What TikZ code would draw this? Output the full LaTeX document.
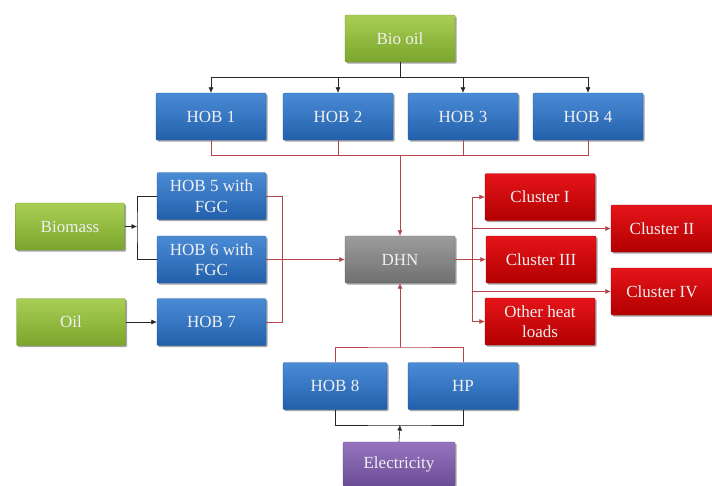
\documentclass[tikz,border=0pt]{standalone}
\usepackage{fontspec}
\setmainfont{Liberation Serif}
\usetikzlibrary{arrows.meta,shadows}
\definecolor{lnred}{HTML}{B5474A}
\tikzset{
  x=1pt, y=-1pt,
  box/.style={rectangle, rounded corners=1pt, minimum width=110pt, minimum height=47pt,
    inner sep=1pt, align=center, text=white!94!black, font=\fontsize{17}{20.5}\selectfont,
    drop shadow={shadow xshift=1.5pt, shadow yshift=-1.5pt, opacity=0.35, fill=black}},
  greenbox/.style={box, top color=green1, bottom color=green2, draw=green2!90!black, line width=0.3pt},
  bluebox/.style={box, top color=blue1, bottom color=blue2, draw=blue2!90!black, line width=0.3pt},
  redbox/.style={box, top color=red1, bottom color=red2, draw=red2!90!black, line width=0.3pt},
  graybox/.style={box, top color=gray1, bottom color=gray2, draw=gray2!90!black, line width=0.3pt},
  purplebox/.style={box, top color=purple1, bottom color=purple2, draw=purple2!90!black, line width=0.3pt},
  blk/.style={draw=black!85, line width=0.6pt},
  rdl/.style={draw=lnred, line width=0.6pt},
  arr/.style={-{Latex[length=5.5pt,width=5pt]}},
}
\definecolor{green1}{HTML}{A9CE55}
\definecolor{green2}{HTML}{7AA52C}
\definecolor{blue1}{HTML}{4A8BD6}
\definecolor{blue2}{HTML}{2360AC}
\definecolor{red1}{HTML}{E5141A}
\definecolor{red2}{HTML}{B20000}
\definecolor{gray1}{HTML}{9C9C9C}
\definecolor{gray2}{HTML}{707070}
\definecolor{purple1}{HTML}{9675BE}
\definecolor{purple2}{HTML}{6B4C96}
\begin{document}
\begin{tikzpicture}
\path[use as bounding box, fill=white] (0,0) rectangle (712,485);
% nodes
\node[greenbox] (bio) at (400,38.5) {Bio oil};
\node[bluebox] (hob1) at (211,116.5) {HOB 1};
\node[bluebox] (hob2) at (338,116.5) {HOB 2};
\node[bluebox] (hob3) at (463,116.5) {HOB 3};
\node[bluebox] (hob4) at (588,116.5) {HOB 4};
\node[greenbox, minimum width=109pt] (biomass) at (70,226.5) {Biomass};
\node[greenbox, minimum width=109pt] (oil) at (71,322) {Oil};
\node[bluebox, minimum width=109pt] (hob5) at (211.5,196) {HOB 5 with\\FGC};
\node[bluebox, minimum width=109pt] (hob6) at (211.5,259.5) {HOB 6 with\\FGC};
\node[bluebox, minimum width=109pt] (hob7) at (211.5,322) {HOB 7};
\node[graybox] (dhn) at (400,259.5) {DHN};
\node[redbox] (cl1) at (540,197) {Cluster I};
\node[redbox, minimum width=102pt] (cl2) at (662,228.5) {Cluster II};
\node[redbox] (cl3) at (541,259.5) {Cluster III};
\node[redbox, minimum width=102pt] (cl4) at (662,291.5) {Cluster IV};
\node[redbox] (other) at (540,321.5) {Other heat\\loads};
\node[bluebox, minimum width=104pt] (hob8) at (335,386) {HOB 8};
\node[bluebox] (hp) at (463,386) {HP};
\node[purplebox, minimum width=112pt, minimum height=44pt] (elec) at (399,464) {Electricity};
% coordinates
\coordinate (bbus) at (400,77);
\coordinate (rbus) at (400,155);
\coordinate (bj) at (137,226.5);
\coordinate (rj) at (282,196);
\coordinate (oj) at (472,259.5);
\coordinate (tb) at (400,347);
\coordinate (eb) at (400,425);
% bio oil distribution
\draw[blk] (bio.south) -- (bbus);
\draw[blk, arr] (bbus) -| (hob1.north);
\draw[blk, arr] (bbus) -| (hob2.north);
\draw[blk, arr] (bbus) -| (hob3.north);
\draw[blk, arr] (bbus) -| (hob4.north);
% HOB 1-4 to DHN
\draw[rdl] (hob1.south) |- (rbus);
\draw[rdl] (hob2.south) |- (rbus);
\draw[rdl] (hob3.south) |- (rbus);
\draw[rdl] (hob4.south) |- (rbus);
\draw[rdl, arr] (rbus) -- (dhn.north);
% biomass and oil
\draw[blk, arr] (biomass.east) -- (bj);
\draw[blk] (hob5.west) -| (bj) |- (hob6.west);
\draw[blk, arr] (oil.east) -- (hob7.west);
% HOB 5-7 to DHN
\draw[rdl] (hob5.east) -- (rj) |- (hob7.east);
\draw[rdl, arr] (hob6.east) -- (dhn.west);
% DHN to clusters
\draw[rdl, arr] (dhn.east) -- (cl3.west);
\draw[rdl, arr] (oj) |- (cl1.west);
\draw[rdl, arr] (oj) |- (other.west);
\draw[rdl, arr] (oj |- cl2.west) -- (cl2.west);
\draw[rdl, arr] (oj |- cl4.west) -- (cl4.west);
% bottom
\draw[rdl, arr] (tb) -- (dhn.south);
\draw[rdl] (hob8.north) |- (tb) -| (hp.north);
\draw[blk, arr] (elec.north) -- (eb);
\draw[blk] (hob8.south) |- (eb) -| (hp.south);
\end{tikzpicture}
\end{document}
